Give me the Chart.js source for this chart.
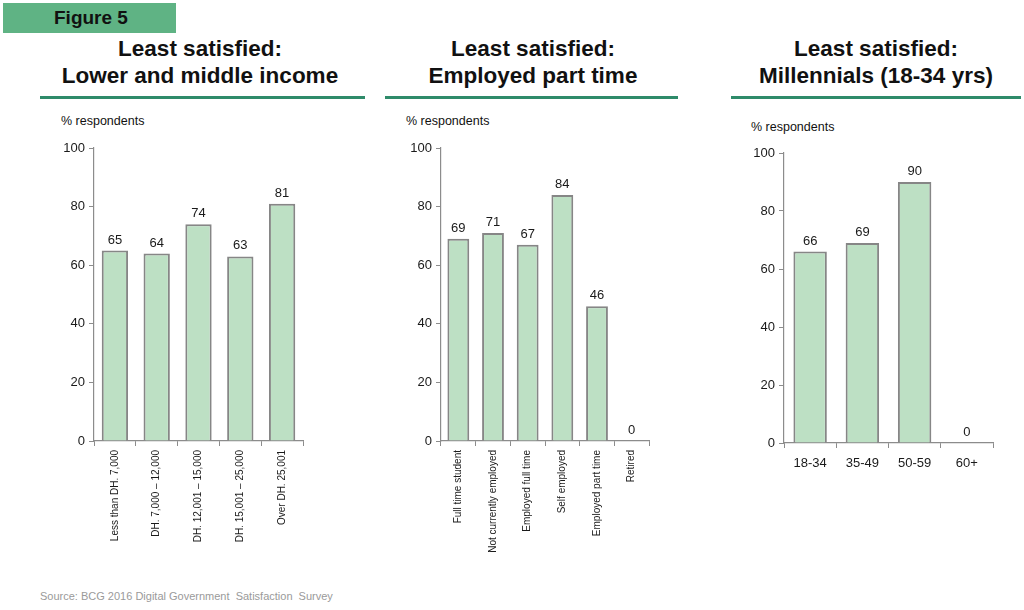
<!DOCTYPE html>
<html>
<head>
<meta charset="utf-8">
<script src="https://cdn.jsdelivr.net/npm/chart.js@4/dist/chart.umd.min.js"></script>
<style>
  html, body { margin: 0; padding: 0; background: #fff; }
  body { width: 1024px; height: 610px; position: relative; overflow: hidden; font-family: "Liberation Sans", Arial, sans-serif; }
  .fig { position: absolute; left: 3px; top: 3px; width: 173px; height: 30px; background: #5fb384; color: #111; font-weight: bold; font-size: 19px; line-height: 30px; box-sizing: border-box; padding-left: 51px; }
  .title { position: absolute; text-align: center; font-weight: bold; font-size: 22.5px; line-height: 27px; color: #111; white-space: nowrap; }
  .rule { position: absolute; height: 3px; background: #2e8b6a; }
  .unit { position: absolute; font-size: 12.5px; color: #111; }
  .src { position: absolute; left: 40px; top: 590px; font-size: 11px; color: #9a9a9a; }
  .cw { position: absolute; }
</style>
</head>
<body>
<div class="fig">Figure 5</div>

<div class="title" style="left:0px; width:400px; top:35px;">Least satisfied:<br>Lower and middle income</div>
<div class="rule" style="left:40px; width:325px; top:96px;"></div>
<div class="unit" style="left:61px; top:114px;">% respondents</div>

<div class="title" style="left:383px; width:300px; top:35px;">Least satisfied:<br>Employed part time</div>
<div class="rule" style="left:385px; width:293px; top:96px;"></div>
<div class="unit" style="left:406px; top:114px;">% respondents</div>

<div class="title" style="left:726px; width:300px; top:35px;">Least satisfied:<br>Millennials (18-34 yrs)</div>
<div class="rule" style="left:731px; width:290px; top:96px;"></div>
<div class="unit" style="left:751px; top:120px;">% respondents</div>

<div class="cw" style="left:40px; top:130px; width:270px; height:431px;"><canvas id="c1"></canvas></div>
<div class="cw" style="left:380px; top:130px; width:276px; height:431px;"><canvas id="c2"></canvas></div>
<div class="cw" style="left:720px; top:135px; width:280px; height:345px;"><canvas id="c3"></canvas></div>

<div class="src">Source: BCG 2016 Digital Government&nbsp; Satisfaction&nbsp; Survey</div>

<script>
const incomeCategories = ["Less than DH. 7,000", "DH. 7,000 \u2013 12,000", "DH. 12,001 \u2013 15,000", "DH. 15,001 \u2013 25,000", "Over DH. 25,001"];
const incomeValues = [65, 64, 74, 63, 81];

const employmentCategories = ["Full time student", "Not currently employed", "Employed full time", "Self employed", "Employed part time", "Retired"];
const employmentValues = [69, 71, 67, 84, 46, 0];

const ageCategories = ["18-34", "35-49", "50-59", "60+"];
const ageValues = [66, 69, 90, 0];

const yTicks = [0, 20, 40, 60, 80, 100];

const FONT = "'Liberation Sans', Arial, sans-serif";

const valueLabels = {
  id: 'valueLabels',
  afterDatasetsDraw(chart) {
    const ctx = chart.ctx;
    const meta = chart.getDatasetMeta(0);
    const data = chart.data.datasets[0].data;
    ctx.save();
    ctx.font = "13px " + FONT;
    ctx.fillStyle = "#1a1a1a";
    ctx.textAlign = "center";
    ctx.textBaseline = "bottom";
    meta.data.forEach((bar, i) => {
      ctx.fillText(String(data[i]), bar.x, bar.y - 4);
    });
    ctx.restore();
  }
};

function makeChart(id, labels, values, opts) {
  new Chart(document.getElementById(id), {
    type: 'bar',
    data: {
      labels: labels,
      datasets: [{
        data: values,
        backgroundColor: '#bde0c4',
        borderColor: '#868686',
        borderWidth: 2,
        barPercentage: opts.barPct,
        categoryPercentage: 1.0
      }]
    },
    options: {
      responsive: true,
      maintainAspectRatio: false,
      animation: false,
      devicePixelRatio: 1,
      layout: { padding: { top: opts.padTop, right: opts.padRight, left: 0, bottom: 0 } },
      plugins: { legend: { display: false }, tooltip: { enabled: false } },
      scales: {
        y: {
          min: 0, max: 100,
          afterBuildTicks(scale) { scale.ticks = yTicks.map(v => ({ value: v })); },
          afterFit(scale) { scale.width = opts.yWidth; },
          border: { color: '#8c8c8c', width: 1.2 },
          grid: { display: true, drawOnChartArea: false, drawTicks: true, tickLength: 5, color: '#8c8c8c' },
          ticks: { font: { size: 13, family: FONT }, color: '#1a1a1a', padding: 4 }
        },
        x: {
          afterFit(scale) { scale.height = opts.xHeight; },
          border: { color: '#8c8c8c', width: 1.2 },
          grid: { display: true, drawOnChartArea: false, drawTicks: true, tickLength: 5, color: '#8c8c8c', offset: true },
          ticks: {
            font: { size: opts.xFont, family: FONT }, color: '#1a1a1a',
            minRotation: opts.rot, maxRotation: opts.rot, autoSkip: false, padding: opts.xPad
          }
        }
      }
    },
    plugins: [valueLabels]
  });
}

makeChart('c1', incomeCategories, incomeValues, { padTop: 18, padRight: 7, yWidth: 54, xHeight: 120, xFont: 10, rot: 90, xPad: 4, barPct: 0.63 });
makeChart('c2', employmentCategories, employmentValues, { padTop: 18, padRight: 7, yWidth: 61, xHeight: 120, xFont: 10, rot: 90, xPad: 4, barPct: 0.63 });
makeChart('c3', ageCategories, ageValues, { padTop: 18, padRight: 7, yWidth: 64, xHeight: 37, xFont: 13, rot: 0, xPad: 8, barPct: 0.64 });
</script>
</body>
</html>
